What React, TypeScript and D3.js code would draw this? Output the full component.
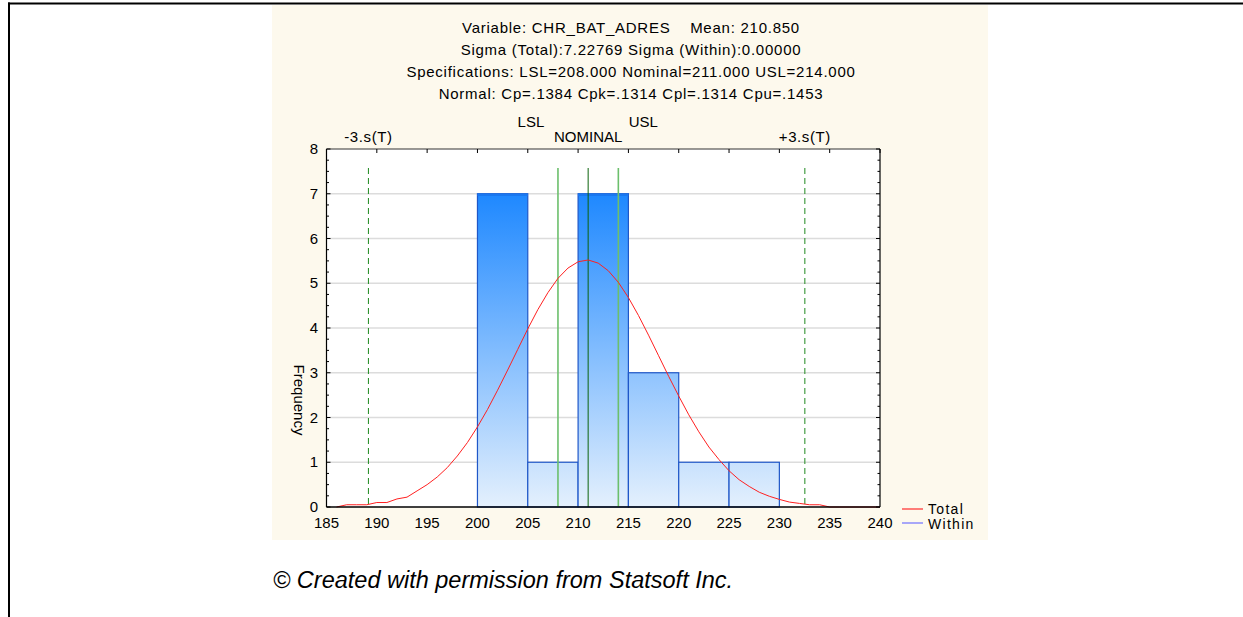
import React from "react";
import * as d3 from "d3";

// ---- data ----
const binStarts = [200, 205, 210, 215, 220, 225];
const binEnds = [205, 210, 215, 220, 225, 230];
const binCounts = [7, 1, 7, 3, 1, 1];

const curveX = [186, 187, 188, 189, 190, 191, 192, 193, 194, 195, 196, 197, 198, 199, 200, 201, 202, 203, 204, 205, 206, 207, 208, 209, 210, 211, 212, 213, 214, 215, 216, 217, 218, 219, 220, 221, 222, 223, 224, 225, 226, 227, 228, 229, 230, 231, 232, 233, 234, 235, 236, 237, 238, 239, 240];
const curveY = [0.0, 0.05, 0.05, 0.05, 0.1, 0.1, 0.18, 0.22, 0.36, 0.5, 0.67, 0.88, 1.14, 1.44, 1.79, 2.18, 2.61, 3.06, 3.52, 3.98, 4.41, 4.79, 5.11, 5.34, 5.48, 5.52, 5.45, 5.28, 5.02, 4.68, 4.28, 3.84, 3.38, 2.92, 2.48, 2.06, 1.68, 1.34, 1.06, 0.81, 0.61, 0.46, 0.33, 0.24, 0.17, 0.11, 0.08, 0.05, 0.05, 0.0, 0, 0, 0, 0, 0];

const xTicks = [185, 190, 195, 200, 205, 210, 215, 220, 225, 230, 235, 240];
const yTicks = [0, 1, 2, 3, 4, 5, 6, 7, 8];

const titleLines = [
  "Variable: CHR_BAT_ADRES    Mean: 210.850",
  "Sigma (Total):7.22769 Sigma (Within):0.00000",
  "Specifications: LSL=208.000 Nominal=211.000 USL=214.000",
  "Normal: Cp=.1384 Cpk=.1314 Cpl=.1314 Cpu=.1453",
];

const specNames = ["LSL", "NOMINAL", "USL"];
const specValues = [208, 211, 214];
const sigmaNames = ["-3.s(T)", "+3.s(T)"];
const sigmaValues = [189.167, 232.533];

const legendNames = ["Total", "Within"];
const legendColors = ["#ff2a2a", "#6f6fff"];

const FONT = "Arial, 'Liberation Sans', sans-serif";

export default function App() {
  const W = 1243;
  const H = 617;
  const left = 326.5, right = 880, top = 149, bottom = 507;
  const x = d3.scaleLinear().domain([185, 240]).range([left, right]);
  const y = d3.scaleLinear().domain([0, 8]).range([bottom, top]);

  const line = d3
    .line<number>()
    .x((_, i) => x(curveX[i]))
    .y((d) => y(d));

  const minor = d3.range(0, 8.001, 0.25);
  const lineTop = 168;

  return (
    <svg
      width={W}
      height={H}
      style={{ position: "absolute", left: 0, top: 0, fontFamily: FONT }}
    >
      <defs>
        <linearGradient id="barGrad" gradientUnits="userSpaceOnUse" x1={0} y1={y(7)} x2={0} y2={y(0)}>
          <stop offset="0" stopColor="#1e88ff" />
          <stop offset="1" stopColor="#e4f0fd" />
        </linearGradient>
      </defs>
      <rect x={0} y={0} width={W} height={H} fill="#fff" />
      {/* page border */}
      <rect x={8} y={2.5} width={W - 8} height={2} fill="#000" />
      <rect x={8} y={2.5} width={2} height={H} fill="#000" />
      {/* chart background */}
      <rect x={272} y={5} width={716} height={535} fill="#fdf9ed" />

      {/* titles */}
      {titleLines.map((t, i) => (
        <text key={t} x={631} y={33 + i * 22} textAnchor="middle" fontSize={15} letterSpacing={0.75} fill="#000" style={{ whiteSpace: "pre" }}>
          {t}
        </text>
      ))}

      {/* plot area */}
      <rect x={left} y={top} width={right - left} height={bottom - top} fill="#fff" />
      {yTicks.slice(1, 8).map((v) => (
        <line key={v} x1={left} x2={right} y1={y(v)} y2={y(v)} stroke="#dcdcdc" strokeWidth={1.5} />
      ))}

      {/* bars */}
      {binCounts.map((c, i) => (
        <rect
          key={i}
          x={x(binStarts[i])}
          y={y(c)}
          width={x(binEnds[i]) - x(binStarts[i])}
          height={y(0) - y(c)}
          fill="url(#barGrad)"
          stroke="#1f57c8"
          strokeWidth={1.2}
        />
      ))}
      {binCounts.map((c, i) =>
        c >= 7 ? (
          <line key={"t" + i} x1={x(binStarts[i])} x2={x(binEnds[i])} y1={y(c) + 1} y2={y(c) + 1} stroke="#1a78f0" strokeWidth={2.5} />
        ) : null
      )}

      {/* sigma lines */}
      {sigmaValues.map((v) => (
        <line key={v} x1={x(v)} x2={x(v)} y1={lineTop} y2={bottom} stroke="#1f8a1f" strokeWidth={1} strokeDasharray="6,4" />
      ))}
      {/* spec lines */}
      {specValues.map((v, i) => (
        <line
          key={v}
          x1={x(v)}
          x2={x(v)}
          y1={lineTop}
          y2={bottom}
          stroke={i === 1 ? "#0b630b" : "#6cbf6c"}
          strokeWidth={i === 1 ? 1 : 1.6}
        />
      ))}

      {/* normal curve */}
      <path d={line(curveY) || ""} fill="none" stroke="#ff2020" strokeWidth={1} />

      {/* axes frame */}
      <line x1={left} x2={right} y1={top} y2={top} stroke="#333" strokeWidth={1} />
      <line x1={left} x2={left} y1={top} y2={bottom} stroke="#000" strokeWidth={1.2} />
      <line x1={right} x2={right} y1={top} y2={bottom} stroke="#000" strokeWidth={1.2} />
      <line x1={left} x2={right} y1={bottom} y2={bottom} stroke="#000" strokeWidth={1.5} />
      {minor.map((v) => {
        const major = Math.abs(v - Math.round(v)) < 1e-6;
        const len = major ? 4 : 2.5;
        return (
          <g key={v}>
            <line x1={left} x2={left + len} y1={y(v)} y2={y(v)} stroke="#000" strokeWidth={1} />
            <line x1={right} x2={right - len} y1={y(v)} y2={y(v)} stroke="#000" strokeWidth={1} />
          </g>
        );
      })}
      {xTicks.map((v) => (
        <line key={v} x1={x(v)} x2={x(v)} y1={top} y2={top + 4} stroke="#000" strokeWidth={1} />
      ))}

      {/* tick labels */}
      {yTicks.map((v) => (
        <text key={v} x={318} y={y(v) + 5} textAnchor="end" fontSize={15} fill="#000">
          {v}
        </text>
      ))}
      {xTicks.map((v) => (
        <text key={v} x={x(v)} y={528} textAnchor="middle" fontSize={15} fill="#000">
          {v}
        </text>
      ))}
      <text transform="translate(294,400) rotate(90)" textAnchor="middle" fontSize={15} fill="#000">
        Frequency
      </text>

      {/* reference labels */}
      <text x={x(specValues[0]) - 27} y={127} textAnchor="middle" fontSize={15}>{specNames[0]}</text>
      <text x={x(specValues[1])} y={142} textAnchor="middle" fontSize={15}>{specNames[1]}</text>
      <text x={x(specValues[2]) + 25} y={127} textAnchor="middle" fontSize={15}>{specNames[2]}</text>
      {sigmaValues.map((v, i) => (
        <text key={v} x={x(v)} y={142} textAnchor="middle" fontSize={15} letterSpacing={0.6}>
          {sigmaNames[i]}
        </text>
      ))}

      {/* legend */}
      {legendNames.map((n, i) => (
        <g key={n}>
          <line x1={902} x2={923} y1={509 + i * 14} y2={509 + i * 14} stroke={legendColors[i]} strokeWidth={1.2} />
          <text x={928} y={514 + i * 15} fontSize={14} letterSpacing={1.3} fill="#000">
            {n}
          </text>
        </g>
      ))}

      {/* footer */}
      <text x={273} y={588} fontSize={23.5} fontStyle="italic" fill="#000">
        © Created with permission from Statsoft Inc.
      </text>
    </svg>
  );
}
